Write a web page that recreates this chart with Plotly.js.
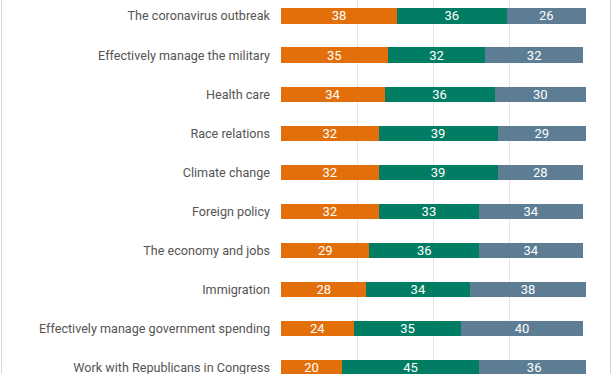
<!DOCTYPE html>
<html>
<head>
<meta charset="utf-8">
<script src="https://cdn.plot.ly/plotly-3.0.1.min.js"></script>
<style>
html, body { margin: 0; padding: 0; background: #fff; }
#wrap { position: relative; width: 612px; height: 374px; overflow: hidden; }
#chart { width: 612px; height: 374px; }
#lb { position: absolute; left: 1px; top: 0; width: 1px; height: 374px; background: #d6d6d6; }
#rb { position: absolute; left: 610px; top: 0; width: 1px; height: 374px; background: #d6d6d6; }
</style>
</head>
<body>
<div id="wrap">
<div id="chart"></div>
<div id="lb"></div>
<div id="rb"></div>
</div>
<script>
const categories = [
  "The coronavirus outbreak",
  "Effectively manage the military",
  "Health care",
  "Race relations",
  "Climate change",
  "Foreign policy",
  "The economy and jobs",
  "Immigration",
  "Effectively manage government spending",
  "Work with Republicans in Congress"
];
const series1 = [38, 35, 34, 32, 32, 32, 29, 28, 24, 20];
const series2 = [36, 32, 36, 39, 39, 33, 36, 34, 35, 45];
const series3 = [26, 32, 30, 29, 28, 34, 34, 38, 40, 36];
const colors = ["#e36f0b", "#017d63", "#5c7d93"];

function tr(vals, color) {
  return {
    type: "bar",
    orientation: "h",
    y: categories,
    x: vals,
    marker: { color: color, line: { width: 0 } },
    text: vals.map(String),
    textposition: "inside",
    insidetextanchor: "middle",
    constraintext: "none",
    textangle: 0,
    textfont: { family: "Roboto", size: 13, color: "#ffffff" },
    hoverinfo: "skip"
  };
}

const data = [tr(series1, colors[0]), tr(series2, colors[1]), tr(series3, colors[2])];

const layout = {
  width: 612, height: 374,
  margin: { l: 281, r: 26, t: 0, b: 0, pad: 0 },
  barmode: "stack",
  bargap: 0.61,
  showlegend: false,
  paper_bgcolor: "#ffffff",
  plot_bgcolor: "#ffffff",
  xaxis: {
    range: [0, 100],
    tickvals: [0, 25, 50, 75, 100],
    showticklabels: false,
    showgrid: true,
    gridcolor: "#e4e4e4",
    gridwidth: 1,
    zeroline: false,
    fixedrange: true
  },
  yaxis: {
    type: "category",
    categoryorder: "array",
    categoryarray: categories,
    range: [9.156, -0.409],
    showgrid: false,
    zeroline: false,
    ticks: "",
    ticklabelstandoff: 10,
    tickfont: { family: "Roboto", size: 12.6, color: "#555555" },
    fixedrange: true
  }
};

Plotly.newPlot("chart", data, layout, { staticPlot: true, displayModeBar: false });
</script>
</body>
</html>
